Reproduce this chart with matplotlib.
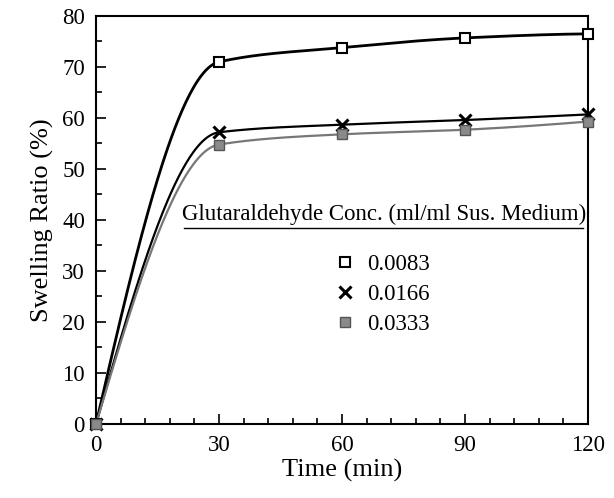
import numpy as np
import matplotlib
matplotlib.use("Agg")
import matplotlib.pyplot as plt
from matplotlib.lines import Line2D

time = [0, 30, 60, 90, 120]
conc_labels = ["0.0083", "0.0166", "0.0333"]
s_0083 = [0, 71.0, 73.8, 75.7, 76.5]
s_0166 = [0, 57.2, 58.7, 59.6, 60.7]
s_0333 = [0, 54.8, 56.8, 57.7, 59.3]

plt.rcParams['font.family'] = ['Liberation Serif', 'DejaVu Serif']


def pchip(x, y, xs):
    x = np.asarray(x, float); y = np.asarray(y, float)
    h = np.diff(x); d = np.diff(y) / h
    n = len(x); m = np.zeros(n)
    for k in range(1, n - 1):
        if d[k - 1] * d[k] > 0:
            w1 = 2 * h[k] + h[k - 1]; w2 = h[k] + 2 * h[k - 1]
            m[k] = (w1 + w2) / (w1 / d[k - 1] + w2 / d[k])
    m[0] = ((2 * h[0] + h[1]) * d[0] - h[0] * d[1]) / (h[0] + h[1])
    if np.sign(m[0]) != np.sign(d[0]):
        m[0] = 0
    elif np.sign(d[0]) != np.sign(d[1]) and abs(m[0]) > abs(3 * d[0]):
        m[0] = 3 * d[0]
    m[-1] = ((2 * h[-1] + h[-2]) * d[-1] - h[-1] * d[-2]) / (h[-1] + h[-2])
    if np.sign(m[-1]) != np.sign(d[-1]):
        m[-1] = 0
    out = np.empty_like(xs)
    for i, xv in enumerate(xs):
        k = min(np.searchsorted(x, xv, side='right') - 1, n - 2)
        t = (xv - x[k]) / h[k]
        h00 = 2 * t**3 - 3 * t**2 + 1; h10 = t**3 - 2 * t**2 + t
        h01 = -2 * t**3 + 3 * t**2; h11 = t**3 - t**2
        out[i] = h00 * y[k] + h10 * h[k] * m[k] + h01 * y[k + 1] + h11 * h[k] * m[k + 1]
    return out


fig = plt.figure(figsize=(6.14, 4.98), dpi=100)
ax = fig.add_axes([0.1564, 0.1486, 0.8013, 0.8193])

xs = np.linspace(0, 120, 400)
styles = [
    (s_0083, dict(color='black', lw=2.0), dict(marker='s', ms=7, mfc='white', mec='black', mew=1.5)),
    (s_0166, dict(color='black', lw=1.6), dict(marker='x', ms=8, mec='black', mew=2.2)),
    (s_0333, dict(color='#777777', lw=1.6), dict(marker='s', ms=7, mfc='#8a8a8a', mec='#555555', mew=1.0)),
]
handles = []
for (ys, lstyle, mstyle), lab in zip(styles, conc_labels):
    ax.plot(xs, pchip(time, ys, xs), zorder=2, **lstyle)
    ax.plot(time, ys, ls='none', zorder=3, clip_on=False, **mstyle)
    handles.append(Line2D([], [], ls='none', **mstyle))

ax.set_xlim(0, 120)
ax.set_ylim(0, 80)
ax.set_xticks([0, 30, 60, 90, 120])
ax.set_xticks(np.arange(0, 121, 6), minor=True)
ax.set_yticks(np.arange(0, 81, 10))
ax.set_yticks(np.arange(0, 81, 5), minor=True)
ax.tick_params(direction='in', which='major', length=7, width=1.2, labelsize=16.5, pad=8)
ax.tick_params(direction='in', which='minor', length=4, width=1.2)
for sp in ax.spines.values():
    sp.set_linewidth(1.5)
ax.set_xlabel("Time (min)", fontsize=19, labelpad=2)
ax.set_ylabel("Swelling Ratio (%)", fontsize=19, labelpad=6)

ax.text(70.2, 41.0, "Glutaraldehyde Conc. (ml/ml Sus. Medium)", fontsize=16.5,
        ha='center', va='center')
ax.plot([21.5, 118.8], [38.4, 38.4], color='black', lw=1.0)

leg = ax.legend(handles, conc_labels, loc='upper left', bbox_to_anchor=(0.44, 0.468),
                frameon=False, fontsize=16.5, handletextpad=0.5, labelspacing=0.4,
                handlelength=1.0)

fig.savefig("out.png", dpi=100)
